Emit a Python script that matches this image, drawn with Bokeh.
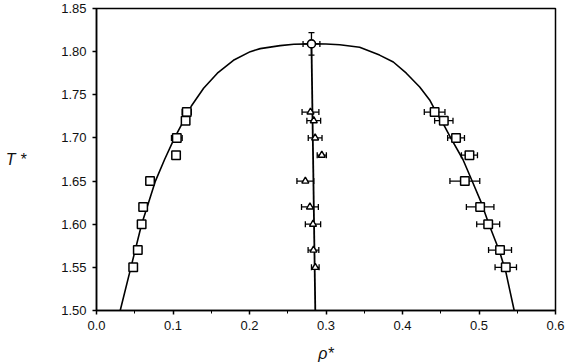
from bokeh.plotting import figure
from bokeh.models import ColumnDataSource, Whisker, TeeHead, FixedTicker, PrintfTickFormatter
from bokeh.embed import file_html
from bokeh.resources import INLINE

# ---- data ----
x_ticks = [0.0, 0.1, 0.2, 0.3, 0.4, 0.5, 0.6]
x_minor = [0.05, 0.15, 0.25, 0.35, 0.45, 0.55]
y_ticks = [1.50, 1.55, 1.60, 1.65, 1.70, 1.75, 1.80, 1.85]

# coexistence curve
curve_rho = [0.031, 0.045, 0.059, 0.068, 0.077, 0.089, 0.102, 0.114, 0.124, 0.140,
             0.158, 0.179, 0.201, 0.214, 0.240, 0.258, 0.281, 0.300, 0.318, 0.344,
             0.370, 0.388, 0.405, 0.4225, 0.4355, 0.444, 0.454, 0.463, 0.479, 0.492,
             0.503, 0.513, 0.527, 0.535, 0.546]
curve_T = [1.50, 1.55, 1.60, 1.625, 1.65, 1.675, 1.70, 1.72, 1.737, 1.7575,
           1.775, 1.79, 1.80, 1.8035, 1.807, 1.8085, 1.809, 1.8088, 1.808, 1.805,
           1.796, 1.788, 1.775, 1.759, 1.744, 1.73, 1.715, 1.70, 1.675, 1.648,
           1.625, 1.60, 1.568, 1.545, 1.50]

# rectilinear diameter line
diam_rho = [0.281, 0.286]
diam_T = [1.809, 1.50]

# vapour branch (squares)
vap_T = [1.73, 1.72, 1.70, 1.68, 1.65, 1.62, 1.60, 1.57, 1.55]
vap_rho = [0.118, 0.1165, 0.105, 0.104, 0.070, 0.061, 0.059, 0.054, 0.048]
vap_err = [0.006, 0.003, 0.007, 0.002, 0.003, 0.002, 0.003, 0.004, 0.002]

# liquid branch (squares)
liq_T = [1.73, 1.72, 1.70, 1.68, 1.65, 1.62, 1.60, 1.57, 1.55]
liq_rho = [0.442, 0.454, 0.470, 0.4875, 0.4815, 0.5015, 0.512, 0.5275, 0.535]
liq_err = [0.0135, 0.012, 0.011, 0.0105, 0.0195, 0.018, 0.015, 0.015, 0.014]

# diameter points (triangles)
dia_T = [1.73, 1.72, 1.70, 1.68, 1.65, 1.62, 1.60, 1.57, 1.55]
dia_rho = [0.2797, 0.284, 0.2858, 0.2945, 0.273, 0.279, 0.283, 0.2836, 0.286]
dia_err = [0.011, 0.009, 0.009, 0.006, 0.011, 0.011, 0.010, 0.007, 0.005]

# critical point
crit_rho = [0.281]
crit_T = [1.809]
crit_rho_err = [0.011]
crit_T_err = [0.013]

p = figure(width=565, height=364, x_range=(0.0, 0.6), y_range=(1.50, 1.85),
           output_backend="svg", toolbar_location=None,
           min_border_left=96, min_border_right=10, min_border_top=8, min_border_bottom=54)
p.background_fill_color = "white"
p.border_fill_color = "white"
p.xgrid.visible = False
p.ygrid.visible = False
p.outline_line_color = "black"
p.outline_line_width = 1.5

# axes
p.xaxis.ticker = FixedTicker(ticks=x_ticks, minor_ticks=x_minor)
p.xaxis.formatter = PrintfTickFormatter(format="%.1f")
p.yaxis.ticker = FixedTicker(ticks=y_ticks)
p.yaxis.formatter = PrintfTickFormatter(format="%.2f")
for ax in (p.xaxis[0], p.yaxis[0]):
    ax.axis_line_color = "black"
    ax.axis_line_width = 1.5
    ax.major_tick_line_color = "black"
    ax.major_tick_line_width = 1.5
    ax.major_tick_in = 0
    ax.major_tick_out = 4
    ax.minor_tick_in = 0
    ax.minor_tick_out = 3
    ax.minor_tick_line_color = "black"
    ax.minor_tick_line_width = 1
    ax.major_label_text_font = "Liberation Sans"
    ax.major_label_text_font_size = "13px"
    ax.major_label_text_color = "#111111"
    ax.axis_label_text_font = "Liberation Sans"
    ax.axis_label_text_font_style = "italic"
    ax.axis_label_text_font_size = "16px"
    ax.axis_label_text_color = "#111111"
p.yaxis.minor_tick_out = 0
p.xaxis.major_label_standoff = 6
p.yaxis.major_label_standoff = 6
p.xaxis.axis_label = "ρ*"
p.xaxis.axis_label_standoff = 12
p.yaxis.axis_label = "T *"
p.yaxis.axis_label_orientation = "horizontal"
p.yaxis.axis_label_standoff = 32

# lines
p.line(curve_rho, curve_T, line_color="black", line_width=1.6)
p.line(diam_rho, diam_T, line_color="black", line_width=1.8)

def hwhisk(src, xcol, ycol, ecol):
    src.data["lo"] = [a - b for a, b in zip(src.data[xcol], src.data[ecol])]
    src.data["hi"] = [a + b for a, b in zip(src.data[xcol], src.data[ecol])]
    w = Whisker(source=src, base=ycol, lower="lo", upper="hi", dimension="width",
                line_color="black", line_width=1.3, level="underlay",
                lower_head=TeeHead(size=6, line_color="black", line_width=1.3),
                upper_head=TeeHead(size=6, line_color="black", line_width=1.3))
    p.add_layout(w)

vap = ColumnDataSource(dict(x=vap_rho, y=vap_T, e=vap_err))
liq = ColumnDataSource(dict(x=liq_rho, y=liq_T, e=liq_err))
dia = ColumnDataSource(dict(x=dia_rho, y=dia_T, e=dia_err))
crit = ColumnDataSource(dict(x=crit_rho, y=crit_T, e=crit_rho_err, ey=crit_T_err))

hwhisk(vap, "x", "y", "e")
hwhisk(liq, "x", "y", "e")
hwhisk(dia, "x", "y", "e")
hwhisk(crit, "x", "y", "e")
crit.data["ylo"] = [a - b for a, b in zip(crit_T, crit_T_err)]
crit.data["yhi"] = [a + b for a, b in zip(crit_T, crit_T_err)]
p.add_layout(Whisker(source=crit, base="x", lower="ylo", upper="yhi", dimension="height",
                     line_color="black", line_width=1.3, level="underlay",
                     lower_head=TeeHead(size=6, line_color="black", line_width=1.3),
                     upper_head=TeeHead(size=6, line_color="black", line_width=1.3)))

# markers
p.scatter("x", "y", source=vap, marker="square", size=8.5, fill_color="white",
          line_color="black", line_width=1.5)
p.scatter("x", "y", source=liq, marker="square", size=8.5, fill_color="white",
          line_color="black", line_width=1.5)
p.scatter("x", "y", source=dia, marker="triangle", size=7, fill_color="white",
          line_color="black", line_width=1.4)
p.scatter("x", "y", source=crit, marker="circle", size=8, fill_color="white",
          line_color="black", line_width=1.6)

open("out.html", "w").write(file_html(p, INLINE))
